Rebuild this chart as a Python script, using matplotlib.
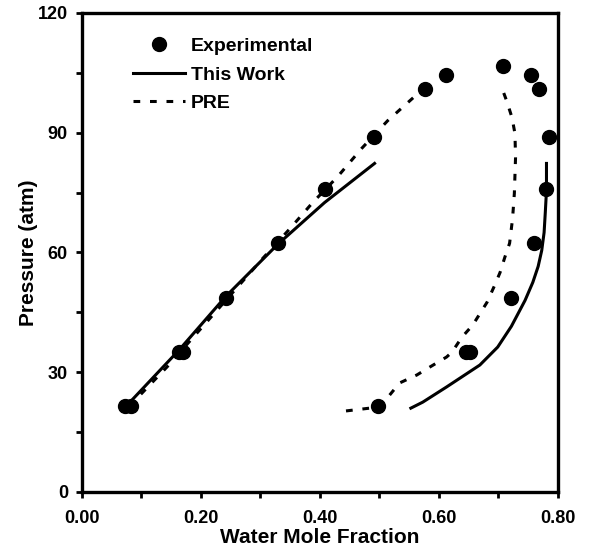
import matplotlib.pyplot as plt
from matplotlib.ticker import MultipleLocator

plt.rcParams['font.family'] = ['Liberation Sans', 'DejaVu Sans']
plt.rcParams['font.weight'] = 'bold'

# experimental points (water mole fraction, pressure atm)
exp_x = [0.072, 0.082, 0.163, 0.170, 0.242, 0.329, 0.408, 0.491, 0.576, 0.612,
         0.708, 0.755, 0.768, 0.785, 0.780, 0.760, 0.721, 0.645, 0.652, 0.497]
exp_p = [21.5, 21.5, 35.0, 35.0, 48.5, 62.3, 75.8, 89.0, 101.0, 104.5,
         106.8, 104.5, 101.0, 89.0, 76.0, 62.3, 48.5, 35.0, 35.0, 21.5]

# This Work - left (gas) and right (liquid) branches
tw_left_x = [0.084, 0.163, 0.242, 0.329, 0.408, 0.492]
tw_left_p = [23.0, 35.5, 49.0, 62.0, 72.5, 82.3]
tw_right_x = [0.553, 0.573, 0.613, 0.669, 0.699, 0.722, 0.745, 0.758, 0.767,
              0.773, 0.777, 0.779, 0.781, 0.781]
tw_right_p = [21.0, 22.5, 26.3, 31.8, 36.3, 41.5, 48.0, 52.5, 56.5,
              60.5, 65.0, 70.0, 75.5, 82.3]

# PRE
pre_left_x = [0.080, 0.143, 0.220, 0.304, 0.350, 0.388, 0.430, 0.470, 0.514, 0.570]
pre_left_p = [21.5, 31.3, 44.3, 58.5, 66.0, 72.5, 79.0, 86.0, 93.0, 100.5]
pre_right_x = [0.444, 0.501, 0.534, 0.563, 0.585, 0.613, 0.622, 0.639, 0.657, 0.681,
               0.694, 0.703, 0.711, 0.719, 0.724, 0.727, 0.729, 0.728, 0.723, 0.714, 0.704]
pre_right_p = [20.3, 21.3, 27.3, 29.3, 31.3, 33.8, 35.0, 38.8, 41.8, 47.5,
               51.8, 55.0, 58.8, 62.3, 68.5, 74.8, 83.8, 89.8, 93.8, 98.0, 102.0]

fig = plt.figure(figsize=(5.89, 5.5), dpi=100)
ax = fig.add_axes([0.139, 0.1055, 0.808, 0.871])

dash = (0, (2.2, 3.2))
ax.plot(tw_left_x, tw_left_p, color='black', lw=2.2, label='This Work')
ax.plot(tw_right_x, tw_right_p, color='black', lw=2.2)
ax.plot(pre_left_x, pre_left_p, color='black', lw=2.2, linestyle=dash, label='PRE')
ax.plot(pre_right_x, pre_right_p, color='black', lw=2.2, linestyle=dash)
ax.plot(exp_x, exp_p, 'o', color='black', markersize=10, linestyle='none',
        label='Experimental')

ax.set_xlim(0, 0.8)
ax.set_ylim(0, 120)
ax.xaxis.set_major_locator(MultipleLocator(0.2))
ax.xaxis.set_minor_locator(MultipleLocator(0.1))
ax.yaxis.set_major_locator(MultipleLocator(30))
ax.yaxis.set_minor_locator(MultipleLocator(15))
ax.set_xticklabels(['%.2f' % v for v in ax.get_xticks()])
ax.tick_params(which='both', direction='out', width=2, length=4, labelsize=13)
ax.tick_params(axis='x', pad=9)
ax.tick_params(axis='y', pad=6)
for s in ax.spines.values():
    s.set_linewidth(2.4)

ax.set_xlabel('Water Mole Fraction', fontsize=15, fontweight='bold', labelpad=1)
ax.set_ylabel('Pressure (atm)', fontsize=15, fontweight='bold', labelpad=0)

h, l = ax.get_legend_handles_labels()
order = [2, 0, 1]
ax.legend([h[i] for i in order], [l[i] for i in order], loc='upper left',
          bbox_to_anchor=(0.07, 0.985), frameon=False,
          handlelength=2.7, handletextpad=0.3, labelspacing=0.55,
          prop={'weight': 'bold', 'size': 14})

fig.savefig('out.png', dpi=100)
